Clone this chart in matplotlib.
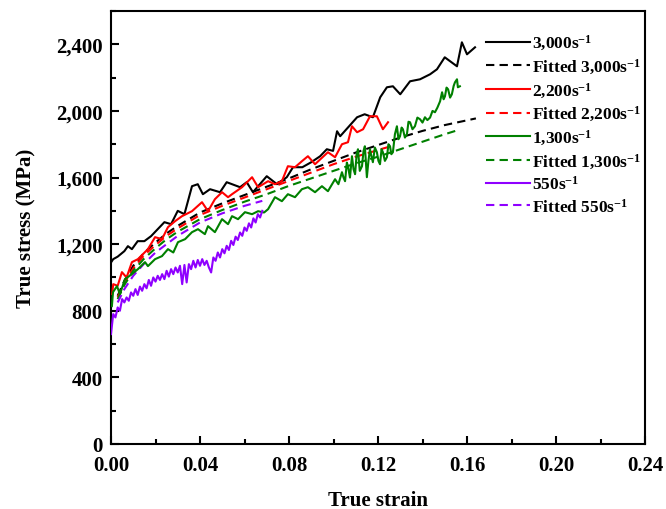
import numpy as np
import matplotlib
matplotlib.use("Agg")
import matplotlib.pyplot as plt
from matplotlib.ticker import MultipleLocator, FuncFormatter

plt.rcParams['font.family'] = ['Liberation Serif', 'DejaVu Serif']
plt.rcParams['font.weight'] = 'bold'
plt.rcParams['mathtext.fontset'] = 'custom'
plt.rcParams['mathtext.rm'] = 'Liberation Serif:bold'
plt.rcParams['mathtext.bf'] = 'Liberation Serif:bold'
plt.rcParams['mathtext.default'] = 'bf'

# ---------------- data ----------------
s3000_strain = [0.000, 0.001, 0.003, 0.006, 0.0076, 0.0094, 0.012, 0.015, 0.018, 0.021,
                0.024, 0.027, 0.030, 0.033, 0.0364, 0.039, 0.0413, 0.0445, 0.049, 0.052,
                0.058, 0.061, 0.0638, 0.070, 0.0746, 0.079, 0.0818, 0.086, 0.090, 0.094,
                0.097, 0.0998, 0.1016, 0.103, 0.1106, 0.114, 0.1177, 0.121, 0.124, 0.1267,
                0.130, 0.1344, 0.1389, 0.1434, 0.1465, 0.150, 0.1555, 0.1577, 0.160, 0.1636]
s3000_stress = [1090, 1110, 1125, 1158, 1188, 1170, 1218, 1218, 1248, 1290,
                1332, 1320, 1400, 1380, 1548, 1560, 1500, 1530, 1512, 1572,
                1542, 1572, 1512, 1608, 1560, 1602, 1662, 1662, 1692, 1728,
                1770, 1760, 1878, 1848, 1962, 1980, 1962, 2082, 2142, 2148,
                2100, 2178, 2190, 2220, 2250, 2322, 2268, 2412, 2340, 2382]

s2200_strain = [0.0005, 0.001, 0.003, 0.0049, 0.007, 0.0094, 0.0121, 0.0166, 0.0198, 0.0229,
                0.0256, 0.0288, 0.0319, 0.0364, 0.0409, 0.0436, 0.0467, 0.0499, 0.0526, 0.0544,
                0.0589, 0.0634, 0.0661, 0.0706, 0.0737, 0.0768, 0.0795, 0.0827, 0.0858, 0.0885,
                0.0917, 0.0975, 0.1007, 0.1038, 0.1065, 0.1083, 0.1106, 0.1133, 0.1164, 0.1195,
                0.1222, 0.1245]
s2200_stress = [900, 960, 950, 1032, 1000, 1092, 1110, 1170, 1242, 1230,
                1302, 1338, 1368, 1398, 1452, 1398, 1470, 1512, 1482, 1500,
                1542, 1602, 1542, 1578, 1560, 1578, 1668, 1662, 1698, 1728,
                1680, 1752, 1722, 1800, 1812, 1908, 1872, 1890, 1968, 1968,
                1890, 1932]

s1300_strain = [0.0004, 0.0009, 0.0027, 0.004, 0.0063, 0.0094, 0.0121, 0.0153, 0.0166, 0.0198,
                0.0229, 0.0256, 0.028, 0.0301, 0.0333, 0.0364, 0.0391, 0.0422, 0.0436, 0.0467,
                0.0499, 0.0526, 0.0544, 0.0571, 0.0602, 0.0634, 0.0661, 0.0688, 0.0706, 0.0737,
                0.0768, 0.0795, 0.0827, 0.0858, 0.0885, 0.0917, 0.0948, 0.0975, 0.1007, 0.1022,
                0.1038, 0.1045, 0.1052, 0.1060, 0.1065, 0.1074, 0.1083, 0.1090, 0.1097, 0.1104,
                0.1110, 0.1118, 0.1128, 0.1135, 0.1141, 0.1150, 0.1157, 0.1164, 0.1170, 0.1177,
                0.1186, 0.1195, 0.1202, 0.1209, 0.1216, 0.1222, 0.1231, 0.1240, 0.1247, 0.1254,
                0.1260, 0.1267, 0.1276, 0.1285, 0.1292, 0.1299, 0.1306, 0.1312, 0.1321, 0.1330,
                0.1337, 0.1344, 0.1355, 0.1366, 0.1377, 0.1389, 0.1400, 0.1411, 0.1422, 0.1434,
                0.1445, 0.1456, 0.1467, 0.1479, 0.1488, 0.1495, 0.1501, 0.1508, 0.1515, 0.1524,
                0.1532, 0.1540, 0.1546, 0.1555, 0.1559, 0.1568]
s1300_stress = [828, 912, 948, 900, 990, 1020, 1050, 1092, 1068, 1110,
                1128, 1170, 1150, 1212, 1230, 1272, 1290, 1260, 1308, 1272,
                1350, 1320, 1368, 1350, 1392, 1380, 1398, 1390, 1410, 1482,
                1458, 1500, 1482, 1530, 1542, 1512, 1548, 1518, 1590, 1560,
                1632, 1600, 1578, 1690, 1668, 1600, 1728, 1650, 1620, 1740,
                1770, 1640, 1668, 1760, 1788, 1602, 1700, 1770, 1730, 1692,
                1780, 1752, 1700, 1680, 1770, 1752, 1700, 1722, 1800, 1788,
                1740, 1752, 1860, 1908, 1830, 1848, 1900, 1890, 1840, 1860,
                1935, 1932, 1890, 1908, 1960, 1950, 1930, 1962, 1945, 1960,
                2000, 1992, 2020, 2058, 2112, 2070, 2088, 2140, 2130, 2080,
                2100, 2150, 2172, 2190, 2142, 2148]

s550_strain_step = 0.001
s550_stress = [660, 780, 760, 820, 800, 870, 850, 880, 860, 910,
               890, 930, 895, 945, 920, 960, 935, 985, 950, 1000,
               975, 1010, 985, 1020, 990, 1040, 1005, 1050, 1020, 1060,
               1030, 1070, 960, 1075, 970, 1080, 1050, 1100, 1060, 1105,
               1070, 1110, 1075, 1100, 1060, 1030, 1120, 1100, 1150, 1120,
               1170, 1145, 1190, 1165, 1220, 1195, 1245, 1225, 1270, 1250,
               1300, 1280, 1325, 1300, 1355, 1330, 1380, 1360, 1400]
s550_strain = [i * s550_strain_step for i in range(len(s550_stress))]

fit3000_strain = [0.003, 0.006, 0.010, 0.015, 0.020, 0.025, 0.030, 0.040, 0.050, 0.060,
                  0.070, 0.080, 0.090, 0.100, 0.110, 0.120, 0.130, 0.140, 0.150, 0.164]
fit3000_stress = [890, 980, 1070, 1150, 1210, 1265, 1310, 1390, 1445, 1495,
                  1545, 1595, 1650, 1700, 1750, 1795, 1840, 1880, 1915, 1955]

fit2200_strain = [0.003, 0.006, 0.010, 0.015, 0.020, 0.025, 0.030, 0.040, 0.050, 0.060,
                  0.070, 0.080, 0.090, 0.100, 0.110, 0.120, 0.125]
fit2200_stress = [880, 965, 1055, 1135, 1195, 1250, 1295, 1375, 1430, 1480,
                  1530, 1580, 1630, 1680, 1725, 1765, 1785]

fit1300_strain = [0.003, 0.006, 0.010, 0.015, 0.020, 0.025, 0.030, 0.040, 0.050, 0.060,
                  0.070, 0.080, 0.090, 0.100, 0.110, 0.120, 0.130, 0.140, 0.150, 0.156]
fit1300_stress = [870, 955, 1040, 1115, 1175, 1230, 1275, 1350, 1405, 1455,
                  1500, 1550, 1595, 1640, 1685, 1725, 1770, 1815, 1860, 1885]

fit550_strain = [0.003, 0.006, 0.010, 0.015, 0.020, 0.025, 0.030, 0.040, 0.050, 0.060, 0.068]
fit550_stress = [850, 930, 1010, 1085, 1150, 1200, 1250, 1330, 1385, 1430, 1460]

labels = ['3,000s$^{-1}$', 'Fitted 3,000s$^{-1}$', '2,200s$^{-1}$', 'Fitted 2,200s$^{-1}$',
          '1,300s$^{-1}$', 'Fitted 1,300s$^{-1}$', '550s$^{-1}$', 'Fitted 550s$^{-1}$']
colors = ['#000000', '#ff0000', '#008000', '#8f00ff']

# ---------------- plot ----------------
fig = plt.figure(figsize=(6.66, 5.10), dpi=100)
ax = fig.add_axes([111/666, 65/510, 534/666, 433/510])

exp_sets = [(s3000_strain, s3000_stress), (s2200_strain, s2200_stress),
            (s1300_strain, s1300_stress), (s550_strain, s550_stress)]
fit_sets = [(fit3000_strain, fit3000_stress), (fit2200_strain, fit2200_stress),
            (fit1300_strain, fit1300_stress), (fit550_strain, fit550_stress)]

handles = []
for i in range(4):
    c = colors[i]
    (he,) = ax.plot(exp_sets[i][0], exp_sets[i][1], color=c, lw=1.5, label=labels[2*i], zorder=3)
    (hf,) = ax.plot(fit_sets[i][0], fit_sets[i][1], color=c, lw=1.5, ls=(0, (4, 2.5)),
                    label=labels[2*i+1], zorder=2)
    handles += [he, hf]

ax.set_xlim(0, 0.24)
ax.set_ylim(0, 2600)
ax.xaxis.set_major_locator(MultipleLocator(0.04))
ax.xaxis.set_minor_locator(MultipleLocator(0.02))
ax.yaxis.set_major_locator(MultipleLocator(400))
ax.yaxis.set_minor_locator(MultipleLocator(200))
ax.xaxis.set_major_formatter(FuncFormatter(lambda v, p: f'{v:.2f}'))
ax.yaxis.set_major_formatter(FuncFormatter(lambda v, p: f'{v:,.0f}'))
ax.tick_params(which='both', direction='in', width=1.5, labelsize=15)
ax.tick_params(which='major', length=6)
ax.tick_params(which='minor', length=3.5)
ax.tick_params(axis='x', pad=8)
ax.tick_params(axis='y', pad=6)
for sp in ax.spines.values():
    sp.set_linewidth(1.5)

ax.set_xlabel('True strain', fontsize=15, fontweight='bold')
ax.set_ylabel('True stress (MPa)', fontsize=15, fontweight='bold')
ax.xaxis.set_label_coords(0.5, -0.107)
ax.yaxis.set_label_coords(-0.14, 0.5)

ax.legend(handles=handles, loc='upper left', bbox_to_anchor=(0.69, 0.965), frameon=False,
          fontsize=12.5, handlelength=2.5, handletextpad=0.15, labelspacing=0.26,
          borderaxespad=0)

fig.savefig('out.png', dpi=100)
